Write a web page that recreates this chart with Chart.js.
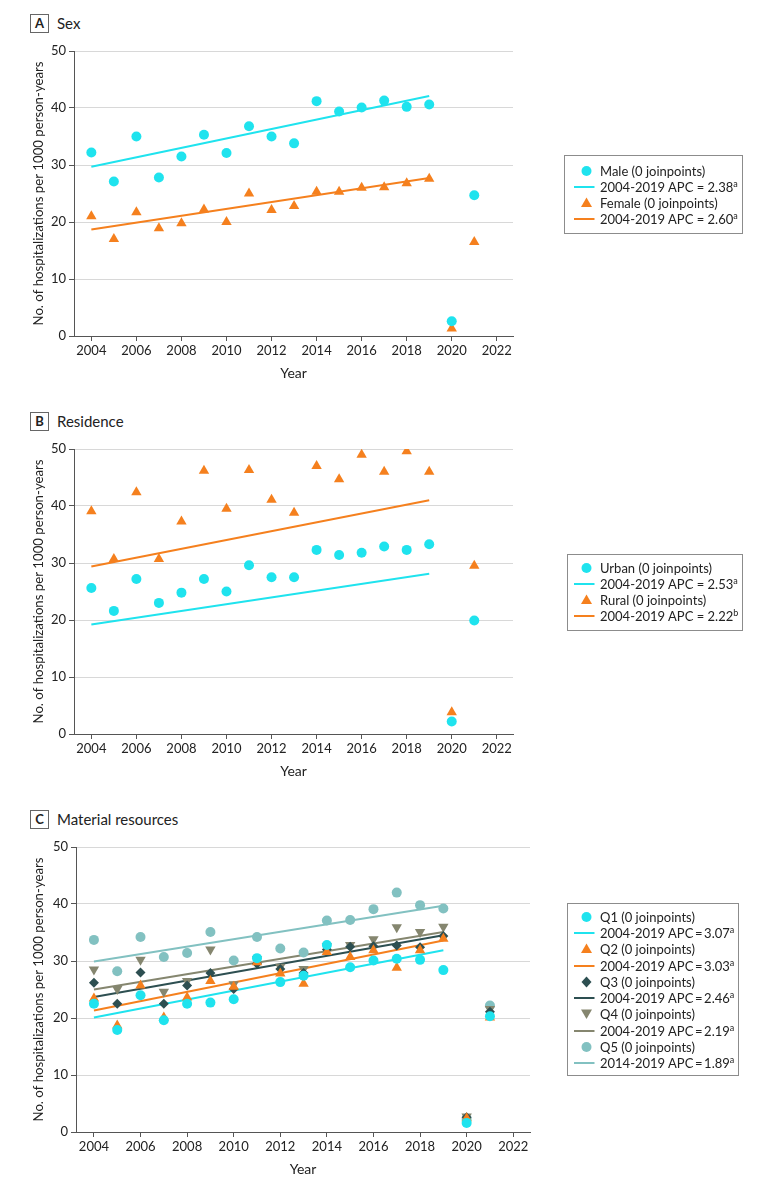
<!DOCTYPE html>
<html><head><meta charset="utf-8">
<script src="https://cdn.jsdelivr.net/npm/chart.js@4.4.0/dist/chart.umd.min.js"></script>
<style>
html,body{margin:0;padding:0;background:#fff;overflow:hidden;width:780px;height:1187px;}
body{position:relative;font-family:Lato,'Noto Sans',sans-serif;color:#222;}
canvas{position:absolute;left:0;}
.hdr{position:absolute;left:30px;height:20px;display:flex;align-items:center;}
.hdr .box{width:17px;height:17px;border:1px solid #666;font-weight:bold;font-size:13px;display:flex;align-items:center;justify-content:center;box-sizing:content-box;}
.hdr .t{margin-left:8px;font-size:15px;}
.leg{position:absolute;border:1px solid #8c8c8c;box-sizing:border-box;}
.lt{position:absolute;left:600px;height:16px;line-height:16px;font-size:13px;white-space:nowrap;}
.lt sup{font-size:9px;line-height:0;vertical-align:5px;}
svg.lm{position:absolute;left:570px;width:30px;height:16px;}
</style></head><body>
<script>
// ---------- DATA ----------
const years = [2004,2005,2006,2007,2008,2009,2010,2011,2012,2013,2014,2015,2016,2017,2018,2019,2020,2021];
const trendYears = [2004, 2019];
const xTicks = [2004,2006,2008,2010,2012,2014,2016,2018,2020,2022];
const yTicks = [0,10,20,30,40,50];

// Panel A: Sex
const maleRates   = [32.2,27.1,35.0,27.8,31.5,35.3,32.1,36.8,35.0,33.8,41.2,39.4,40.1,41.3,40.2,40.6,2.6,24.7];
const femaleRates = [21.0,17.0,21.7,18.9,19.8,22.2,20.0,25.0,22.1,22.8,25.3,25.3,26.0,26.1,26.8,27.6,1.3,16.5];
const maleTrend   = [29.7, 42.1];
const femaleTrend = [18.7, 27.7];

// Panel B: Residence
const urbanRates = [25.6,21.6,27.2,23.0,24.8,27.2,25.0,29.6,27.5,27.5,32.3,31.4,31.8,32.9,32.3,33.3,2.2,19.9];
const ruralRates = [39.1,30.7,42.4,30.7,37.3,46.2,39.5,46.3,41.1,38.8,47.0,44.7,49.0,46.0,49.6,46.0,3.8,29.5];
const urbanTrend = [19.2, 28.1];
const ruralTrend = [29.4, 41.0];

// Panel C: Material resources (quintiles)
const q1Rates = [22.5,17.9,24.0,19.6,22.5,22.7,23.3,30.5,26.3,27.4,32.8,28.9,30.1,30.4,30.2,28.4,1.6,20.3];
const q2Rates = [23.4,18.7,25.7,20.1,23.6,26.5,25.5,29.8,27.8,26.0,31.6,30.7,31.9,28.8,31.9,33.9,2.4,20.1];
const q3Rates = [26.2,22.5,28.0,22.5,25.7,27.9,25.1,29.5,28.6,27.9,32.0,32.5,32.6,32.7,32.4,34.4,2.6,21.1];
const q4Rates = [28.5,25.1,30.2,24.6,26.5,32.0,25.9,30.3,29.0,28.6,32.6,32.8,33.8,35.9,35.1,36.0,2.7,21.6];
const q5Rates = [33.7,28.2,34.2,30.7,31.4,35.1,30.1,34.2,32.2,31.5,37.1,37.2,39.1,42.0,39.8,39.2,2.3,22.2];
const q1Trend = [20.1, 31.9];
const q2Trend = [21.3, 33.6];
const q3Trend = [23.7, 34.5];
const q4Trend = [25.0, 35.1];
const q5Trend = [29.9, 39.7];

// Text
const panelLetters = ['A','B','C'];
const panelTitles = ['Sex','Residence','Material resources'];
const legendA = [['Male (0 joinpoints)',''],['2004-2019 APC = 2.38','a'],['Female (0 joinpoints)',''],['2004-2019 APC = 2.60','a']];
const legendB = [['Urban (0 joinpoints)',''],['2004-2019 APC = 2.53','a'],['Rural (0 joinpoints)',''],['2004-2019 APC = 2.22','b']];
const legendC = [['Q1 (0 joinpoints)',''],['2004-2019 APC\u2009=\u20093.07','a'],['Q2 (0 joinpoints)',''],['2004-2019 APC\u2009=\u20093.03','a'],
                 ['Q3 (0 joinpoints)',''],['2004-2019 APC\u2009=\u20092.46','a'],['Q4 (0 joinpoints)',''],['2004-2019 APC\u2009=\u20092.19','a'],
                 ['Q5 (0 joinpoints)',''],['2014-2019 APC\u2009=\u20091.89','a']];

// ---------- STYLE ----------
const CYAN='#1fe3ee', ORANGE='#f5801e', Q3C='#2d4f51', Q4C='#85866f', Q5C='#82c1c1';
const FONT='Lato, "Noto Sans", sans-serif';
Chart.defaults.font.family = FONT;
Chart.defaults.color = '#222';

function pts(xs, ys){ return ys.map((v,i)=>({x:xs[i], y:v})); }
function scatterSet(label, ys, color, style, r, rot){
  return {label, data:pts(years, ys), pointStyle:style, pointRadius:r, pointHoverRadius:r,
    pointRotation:rot||0, backgroundColor:color, borderColor:color, borderWidth:0, showLine:false, order:0};
}
function trendSet(label, ys, color){
  return {label, data:pts(trendYears, ys), showLine:true, pointRadius:0, pointHoverRadius:0,
    borderColor:color, backgroundColor:color, borderWidth:2, order:1};
}

function makePanel(top, axisLeft, plotRight, datasets){
  const cv = document.createElement('canvas');
  cv.width = 780; cv.height = 391;
  cv.style.top = top + 'px'; cv.style.width='780px'; cv.style.height='391px';
  document.body.appendChild(cv);
  new Chart(cv, {
    type:'scatter',
    data:{datasets},
    options:{
      responsive:false, animation:false, devicePixelRatio:1,
      layout:{padding:{left:0, top:51, right:780-plotRight, bottom:0}},
      plugins:{legend:{display:false}, tooltip:{enabled:false}},
      scales:{
        x:{type:'linear', min:2003.23, max:2022.72,
          afterBuildTicks:(s)=>{ s.ticks = xTicks.map(v=>({value:v})); },
          afterFit:(s)=>{ s.height = 55; },
          grid:{drawOnChartArea:false, drawTicks:true, tickLength:5, tickColor:'#555'},
          border:{color:'#555', width:1},
          ticks:{font:{size:13}, color:'#222', padding:2, autoSkip:false, maxRotation:0, callback:(v)=>String(v)},
          title:{display:true, text:'Year', font:{size:14}, color:'#222', padding:{top:0,bottom:9.6}}
        },
        y:{type:'linear', min:0, max:50,
          afterBuildTicks:(s)=>{ s.ticks = yTicks.map(v=>({value:v})); },
          afterFit:(s)=>{ s.width = axisLeft; },
          grid:{color:'#d8d8d8', lineWidth:1, drawTicks:true, tickLength:5, tickColor:'#555'},
          border:{color:'#555', width:1},
          ticks:{font:{size:13}, color:'#222', padding:3},
          title:{display:true, text:'No. of hospitalizations per 1000 person-years', font:{size:13.2}, color:'#222', padding:{top:31,bottom:0}}
        }
      }
    }
  });
}

function header(i, cy){
  const d = document.createElement('div'); d.className='hdr';
  d.style.top = (cy-10)+'px';
  d.innerHTML = '<div class="box">'+panelLetters[i]+'</div><div class="t">'+panelTitles[i]+'</div>';
  document.body.appendChild(d);
}

function markerSvg(kind, color){
  let s='';
  if(kind==='circle') s='<circle cx="16.5" cy="8" r="5" fill="'+color+'"/>';
  else if(kind==='tri') s='<polygon points="16.5,2.5 22,12 11,12" fill="'+color+'"/>';
  else if(kind==='tridown') s='<polygon points="11,3.5 22,3.5 16.5,13" fill="'+color+'"/>';
  else if(kind==='diamond') s='<polygon points="16.5,2.5 21.5,8 16.5,13.5 11.5,8" fill="'+color+'"/>';
  else if(kind==='line') s='<line x1="4" y1="8" x2="24.5" y2="8" stroke="'+color+'" stroke-width="2"/>';
  return s;
}

function legend(box, firstY, texts, marks){
  const d = document.createElement('div'); d.className='leg';
  d.style.left=box[0]+'px'; d.style.top=box[1]+'px';
  d.style.width=(box[2]-box[0])+'px'; d.style.height=(box[3]-box[1])+'px';
  document.body.appendChild(d);
  texts.forEach((t,i)=>{
    const cy = firstY + i*16.25;
    const sv = document.createElementNS('http://www.w3.org/2000/svg','svg');
    sv.setAttribute('class','lm'); sv.setAttribute('viewBox','0 0 30 16');
    sv.style.top=(cy-8)+'px';
    sv.innerHTML = markerSvg(marks[i][0], marks[i][1]);
    document.body.appendChild(sv);
    const sp = document.createElement('div'); sp.className='lt';
    sp.style.top=(cy-8)+'px';
    sp.innerHTML = t[0] + (t[1] ? '<sup>'+t[1]+'</sup>' : '');
    document.body.appendChild(sp);
  });
}

// Panel A
header(0, 23);
makePanel(0, 74, 513, [
  scatterSet('Male', maleRates, CYAN, 'circle', 5),
  scatterSet('Female', femaleRates, ORANGE, 'triangle', 6),
  trendSet('Male APC', maleTrend, CYAN),
  trendSet('Female APC', femaleTrend, ORANGE)
]);
legend([564,155,743,234], 170.7, legendA, [['circle',CYAN],['line',CYAN],['tri',ORANGE],['line',ORANGE]]);

// Panel B
header(1, 421);
makePanel(398, 74, 513, [
  scatterSet('Urban', urbanRates, CYAN, 'circle', 5),
  scatterSet('Rural', ruralRates, ORANGE, 'triangle', 6),
  trendSet('Urban APC', urbanTrend, CYAN),
  trendSet('Rural APC', ruralTrend, ORANGE)
]);
legend([567,554,743,631], 567.7, legendB, [['circle',CYAN],['line',CYAN],['tri',ORANGE],['line',ORANGE]]);

// Panel C
header(2, 819);
makePanel(796, 76, 530, [
  scatterSet('Q1', q1Rates, CYAN, 'circle', 5),
  scatterSet('Q2', q2Rates, ORANGE, 'triangle', 6),
  scatterSet('Q3', q3Rates, Q3C, 'rectRot', 5),
  scatterSet('Q4', q4Rates, Q4C, 'triangle', 6, 180),
  scatterSet('Q5', q5Rates, Q5C, 'circle', 5),
  trendSet('Q1 APC', q1Trend, CYAN),
  trendSet('Q2 APC', q2Trend, ORANGE),
  trendSet('Q3 APC', q3Trend, Q3C),
  trendSet('Q4 APC', q4Trend, Q4C),
  trendSet('Q5 APC', q5Trend, Q5C)
]);
legend([567,903,739,1076], 916.8, legendC,
  [['circle',CYAN],['line',CYAN],['tri',ORANGE],['line',ORANGE],['diamond',Q3C],['line',Q3C],['tridown',Q4C],['line',Q4C],['circle',Q5C],['line',Q5C]]);
</script>
</body></html>
